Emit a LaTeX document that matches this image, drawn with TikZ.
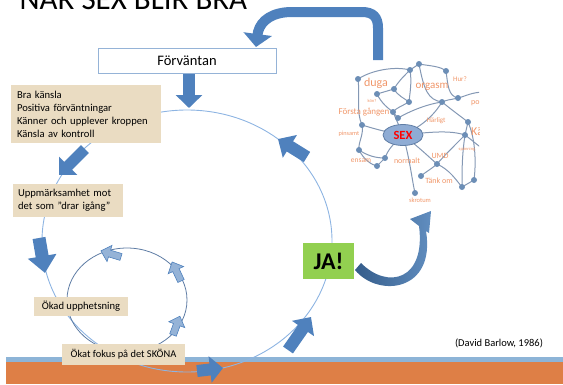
\documentclass[tikz,border=0pt]{standalone}
\usepackage{fontspec}
\setmainfont{Carlito}
\usetikzlibrary{arrows.meta,shapes.geometric}
\definecolor{cArrow}{RGB}{79,129,189}
\definecolor{cCircle}{RGB}{141,180,226}
\definecolor{cSmallCircle}{RGB}{95,125,165}
\definecolor{cSmallFill}{RGB}{149,179,215}
\definecolor{cBeige}{RGB}{234,220,194}
\definecolor{cGreen}{RGB}{146,208,80}
\definecolor{cOrange}{RGB}{222,127,70}
\definecolor{cStripe}{RGB}{141,180,215}
\definecolor{cBorder}{RGB}{149,179,215}
\definecolor{cNetLine}{RGB}{132,152,180}
\definecolor{cNetDot}{RGB}{108,142,182}
\definecolor{cWord}{RGB}{240,150,105}
\definecolor{cSexFill}{RGB}{143,172,212}
\definecolor{cSexBorder}{RGB}{95,125,165}
\definecolor{cCurveA}{RGB}{52,92,138}
\definecolor{cCurveB}{RGB}{100,145,195}
\newcommand{\sarrow}[3]{%
  \begin{scope}[shift={#1}, rotate=#2]
    \filldraw[fill=cSmallFill, draw=cArrow, line width=0.6pt]
      (0,-3.5) -- ({#3-9},-3.5) -- ({#3-9},-8.5) -- (#3,0) -- ({#3-9},8.5) -- ({#3-9},3.5) -- (0,3.5) -- cycle;
  \end{scope}}
\tikzset{
  bigarr/.style n args={3}{draw=cArrow, line width=#1, -{Triangle[length=#3, width=#2]}},
  beigebox/.style={fill=cBeige, inner sep=0pt, font=\fontsize{10.6}{13}\selectfont},
  net/.style={draw=cNetLine, line width=1pt},
  netdot/.style={circle, fill=cNetDot, inner sep=0pt, minimum size=6pt},
  word/.style={text=cWord, inner sep=0pt},
}
\begin{document}
\begin{tikzpicture}[x=1pt,y=-1pt]
\useasboundingbox (0,0) rectangle (563,384);
\begin{scope}
\clip (0,0) rectangle (563,384);

% title (cut at the top)
\node[anchor=base west, inner sep=0pt, font=\fontsize{31}{31}\selectfont] (title) at (19.5,9) {NÄR SEX BLIR BRA};

% bottom bar
\fill[cStripe] (6,357) rectangle (563,362);
\fill[cOrange] (6,362) rectangle (563,384);

% big cycle
\draw[cCircle, line width=0.9pt] (187,241) ellipse [x radius=145, y radius=131];
% small cycle
\draw[cSmallCircle, line width=0.8pt] (127,300) ellipse [x radius=60, y radius=52];

% Förväntan
\node[draw=cBorder, fill=white, line width=1pt, minimum width=178pt, minimum height=25pt, inner sep=0pt,
      font=\fontsize{14.5}{16}\selectfont] (forv) at (187,60.5) {Förväntan};

% beige boxes
\node[beigebox, minimum width=150pt, minimum height=58pt, text width=138pt, align=left] (b1) at (86,114)
  {Bra känsla\\Positiva förväntningar\\Känner och upplever kroppen\\Känsla av kontroll};
\node[beigebox, minimum width=110pt, minimum height=33pt, text width=100pt, align=left] (b2) at (68,200.5)
  {Uppmärksamhet mot\\det som ”drar igång”};
\node[beigebox, minimum width=94pt, minimum height=19pt] (b3) at (81,306.5)
  {Ökad upphetsning};
\node[beigebox, minimum width=123pt, minimum height=21pt, font=\fontsize{10.4}{13}\selectfont] (b4) at (123.5,354.5)
  {Ökat fokus på det SKÖNA};

% JA!
\node[fill=cGreen, minimum width=51pt, minimum height=36pt, inner sep=0pt,
      font=\bfseries\fontsize{24}{24}\selectfont] (ja) at (328.5,261) {JA!};

% citation
\node[inner sep=0pt, font=\fontsize{10.5}{12}\selectfont] (cite) at (499,343) {(David Barlow, 1986)};

% big block arrows
\coordinate (a1s) at (189,74);  \coordinate (a1e) at (189,108);
\coordinate (a2s) at (85,149);  \coordinate (a2e) at (59,175);
\coordinate (a3s) at (39,238);  \coordinate (a3e) at (45,273);
\coordinate (a4s) at (197,371); \coordinate (a4e) at (223,368);
\coordinate (a5s) at (288,350); \coordinate (a5e) at (311,317);
\coordinate (a6s) at (307,157); \coordinate (a6e) at (278,139);
\draw[bigarr={12pt}{26pt}{13pt}] (a1s) -- (a1e);
\draw[bigarr={11pt}{25pt}{13pt}] (a2s) -- (a2e);
\draw[bigarr={13pt}{28pt}{17pt}] (a3s) -- (a3e);
\draw[bigarr={12pt}{26pt}{13pt}] (a4s) -- (a4e);
\draw[bigarr={12pt}{26pt}{14pt}] (a5s) -- (a5e);
\draw[bigarr={12pt}{26pt}{14pt}] (a6s) -- (a6e);

% small arrows on the inner cycle
\sarrow{(121,257)}{163}{21}
\sarrow{(181,281)}{115}{21}
\sarrow{(173,335)}{70}{20}

% top bent arrow (from network to Förväntan)
\coordinate (ts) at (378,60);
\coordinate (te) at (256,47);
\draw[bigarr={10pt}{28pt}{13pt}] (ts) -- (378,28) .. controls (378,17) and (373,12) .. (362,12)
   -- (292,12) .. controls (273,12) and (261,20) .. (258,32) -- (te);

% curved arrow from JA! to network
\shade[left color=cCurveA, right color=cCurveB]
  (355,270) .. controls (378,298) and (436,292) .. (426,231)
  -- (429,233) -- (431,211) -- (410,219) -- (419,226)
  .. controls (426,280) and (388,290) .. (361,263) -- cycle;

% network
\begin{scope}
\clip (335,50) rectangle (479,210);
\coordinate (n1) at (358,79);  \coordinate (n2) at (419,64);  \coordinate (n3) at (410,70);
\coordinate (n4) at (446,71);  \coordinate (n5) at (394,89);  \coordinate (n6) at (377,94);
\coordinate (n7) at (409,102); \coordinate (n8) at (442,102); \coordinate (n9) at (458,98);
\coordinate (n10) at (393,112);\coordinate (n11) at (398,118);\coordinate (n12) at (468,122);
\coordinate (n13) at (362,125);\coordinate (n14) at (465,135);\coordinate (n15) at (359,150);
\coordinate (n16) at (385,158);\coordinate (n17) at (377,166);\coordinate (n18) at (437,164);
\coordinate (n19) at (421,176);\coordinate (n20) at (474,180);\coordinate (n21) at (462,187);
\coordinate (n22) at (415,193);\coordinate (n23) at (485,92); \coordinate (n24) at (485,150);
\coordinate (sexc) at (403,135);

\draw[net] (n1) .. controls (372,70) and (395,66) .. (n3);
\draw[net] (n3) -- (n2);
\draw[net] (n2) .. controls (430,66) and (440,66) .. (n4);
\draw[net] (n4) .. controls (448,85) and (448,96) .. (n9);
\draw[net] (n9) .. controls (466,96) and (472,92) .. (n23);
\draw[net] (n1) .. controls (360,95) and (356,112) .. (n13);
\draw[net] (n13) .. controls (364,135) and (358,142) .. (n15);
\draw[net] (n15) .. controls (368,156) and (376,158) .. (n16);
\draw[net] (n16) -- (n17);
\draw[net] (n3) .. controls (402,78) and (398,82) .. (n5);
\draw[net] (n5) -- (n6);
\draw[net] (n5) .. controls (398,96) and (404,98) .. (n7);
\draw[net] (n3) .. controls (412,82) and (410,92) .. (n7);
\draw[net] (n2) .. controls (424,90) and (428,100) .. (n8);
\draw[net] (n7) .. controls (402,106) and (396,108) .. (n10);
\draw[net] (n10) -- (n11);
\draw[net] (n11) .. controls (412,110) and (428,104) .. (n8);
\draw[net] (n8) .. controls (452,110) and (460,116) .. (n12);
\draw[net] (n12) -- (n14);
\draw[net] (n14) .. controls (452,148) and (444,156) .. (n18);
\draw[net] (n18) .. controls (430,170) and (424,173) .. (n19);
\draw[net] (n18) .. controls (450,170) and (456,180) .. (n21);
\draw[net] (n21) -- (n20);
\draw[net] (n12) .. controls (476,140) and (476,165) .. (n20);
\draw[net] (n14) .. controls (462,155) and (462,170) .. (n21);
\draw[net] (n14) .. controls (472,140) and (478,146) .. (n24);
\draw[net] (n6) .. controls (382,104) and (388,108) .. (n10);
\draw[net] (n8) .. controls (452,98) and (454,100) .. (n9);
\draw[net] (n15) .. controls (364,160) and (372,165) .. (n17);
\draw[net] (sexc) -- (n10);
\draw[net] (sexc) .. controls (385,132) and (372,128) .. (n13);
\draw[net] (sexc) .. controls (392,145) and (388,150) .. (n16);
\draw[net] (sexc) .. controls (410,160) and (412,180) .. (n22);
\draw[net] (sexc) .. controls (420,148) and (430,158) .. (n18);
\draw[net] (sexc) .. controls (430,132) and (450,130) .. (n14);
\draw[net] (sexc) .. controls (425,125) and (436,112) .. (n8);

\node[word, font=\fontsize{12}{12}\selectfont] (w1) at (376,83) {duga};
\node[word, font=\fontsize{11}{11}\selectfont] (w2) at (432,87) {orgasm};
\node[word, font=\fontsize{7}{7}\selectfont] (w3) at (460,79) {Hur?};
\node[word, font=\fontsize{4.5}{5}\selectfont] (w4) at (372,101) {kön?};
\node[word, font=\fontsize{9}{9}\selectfont] (w5) at (364,112) {Första gången};
\node[word, font=\fontsize{7}{7}\selectfont] (w6) at (436,121) {Härligt};
\node[word, anchor=west, font=\fontsize{12}{12}\selectfont] (w7) at (471,131) {Kärlek};
\node[word, anchor=west, font=\fontsize{8}{8}\selectfont] (w8) at (471,103) {porr};
\node[word, font=\fontsize{6.3}{7}\selectfont] (w9) at (349,134) {pinsamt};
\node[word, font=\fontsize{7.5}{8}\selectfont] (w10) at (361,161) {ensam};
\node[word, font=\fontsize{8}{8}\selectfont] (w11) at (407,161) {normalt};
\node[word, font=\fontsize{8}{8}\selectfont] (w12) at (440,156) {UMD};
\node[word, font=\fontsize{4.5}{5}\selectfont] (w13) at (467,149) {spänning};
\node[word, font=\fontsize{8}{8}\selectfont] (w14) at (439,181) {Tänk om};
\node[word, font=\fontsize{6.5}{7}\selectfont] (w15) at (420,200) {skrotum};

\foreach \n in {1,...,22} { \node[netdot] (d\n) at (n\n) {}; }
\node[ellipse, fill=cSexFill, draw=cSexBorder, line width=0.8pt, minimum width=40pt, minimum height=21pt,
      inner sep=0pt, text=red, font=\bfseries\fontsize{12.5}{13}\selectfont] (sex) at (sexc) {SEX};
\end{scope}

\end{scope}
\end{tikzpicture}
\end{document}
